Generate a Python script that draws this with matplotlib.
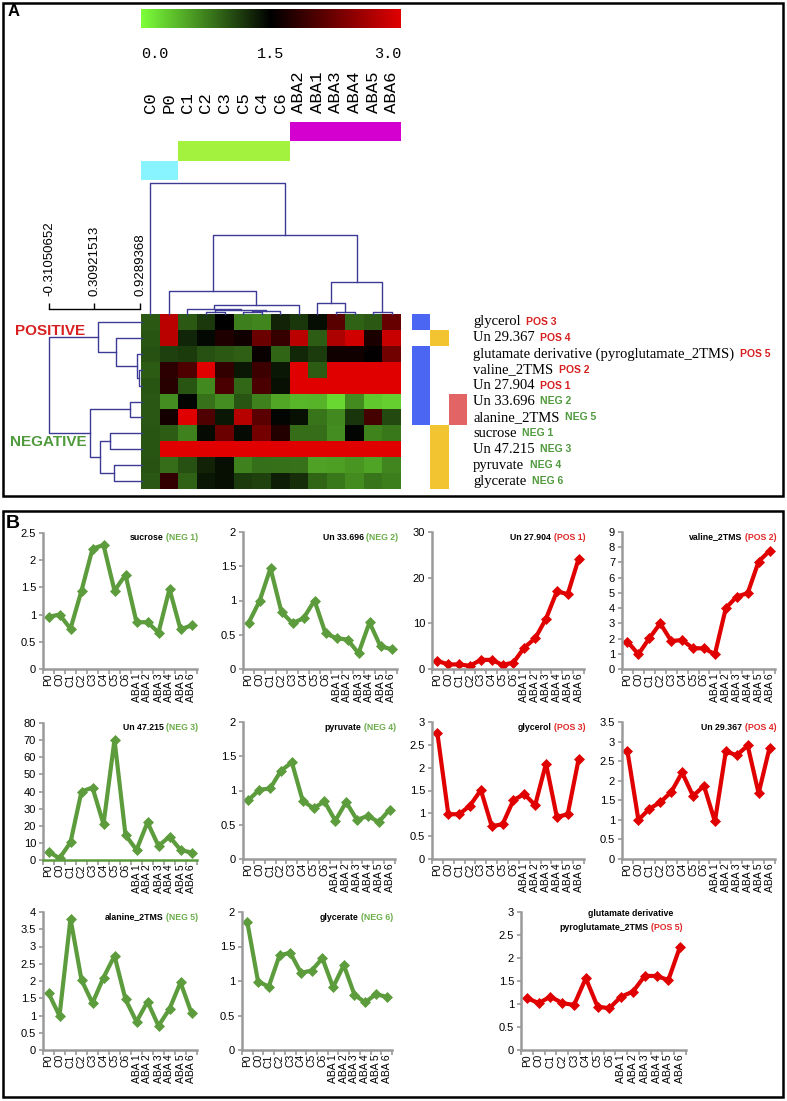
import matplotlib
matplotlib.use('Agg')
import matplotlib.pyplot as plt
import numpy as np
from matplotlib.colors import LinearSegmentedColormap
from matplotlib.patches import Rectangle
from matplotlib.ticker import FuncFormatter

W, H = 787, 1101

# ---- data ----
categories = ['P0', 'C0', 'C1', 'C2', 'C3', 'C4', 'C5', 'C6',
              'ABA 1', 'ABA 2', 'ABA 3', 'ABA 4', 'ABA 5', 'ABA 6']

sucrose = [0.96, 1.0, 0.74, 1.44, 2.21, 2.28, 1.44, 1.73, 0.86, 0.86, 0.67, 1.47, 0.73, 0.80]
un33696 = [0.67, 0.99, 1.47, 0.83, 0.67, 0.74, 1.0, 0.52, 0.45, 0.43, 0.23, 0.68, 0.33, 0.29]
un27904 = [1.76, 1.0, 1.0, 0.7, 2.0, 2.0, 0.9, 1.4, 4.7, 6.7, 11.0, 17.0, 16.4, 24.1]
valine = [1.8, 0.97, 2.02, 3.0, 1.84, 1.9, 1.36, 1.36, 0.97, 4.0, 4.76, 4.98, 7.06, 7.76]
un47215 = [4.9, 1.0, 10.3, 40.0, 42.3, 20.9, 70.2, 14.6, 5.9, 22.0, 8.2, 13.7, 5.9, 4.3]
pyruvate = [0.86, 1.01, 1.03, 1.29, 1.41, 0.85, 0.74, 0.84, 0.56, 0.83, 0.57, 0.63, 0.54, 0.72]
glycerol = [2.75, 0.98, 0.98, 1.17, 1.51, 0.72, 0.76, 1.29, 1.42, 1.18, 2.09, 0.92, 0.98, 2.18]
un29367 = [2.75, 1.0, 1.28, 1.45, 1.71, 2.21, 1.61, 1.87, 0.96, 2.75, 2.65, 2.9, 1.68, 2.84]
alanine = [1.65, 0.99, 3.81, 2.03, 1.36, 2.1, 2.73, 1.47, 0.82, 1.4, 0.7, 1.19, 1.96, 1.07]
glycerate = [1.85, 0.99, 0.92, 1.37, 1.41, 1.12, 1.15, 1.33, 0.91, 1.23, 0.80, 0.69, 0.81, 0.77]
glutamate = [1.13, 1.02, 1.16, 1.02, 0.98, 1.56, 0.94, 0.91, 1.16, 1.27, 1.61, 1.61, 1.52, 2.25]

# heatmap (panel A)
heat_cols = ['C0', 'P0', 'C1', 'C2', 'C3', 'C5', 'C4', 'C6',
             'ABA2', 'ABA1', 'ABA3', 'ABA4', 'ABA5', 'ABA6']
heat_series = [glycerol, un29367, glutamate, valine, un27904, un33696,
               alanine, sucrose, un47215, pyruvate, glycerate]
row_names = ['glycerol', 'Un 29.367', 'glutamate derivative (pyroglutamate_2TMS)',
             'valine_2TMS', 'Un 27.904', 'Un 33.696', 'alanine_2TMS', 'sucrose',
             'Un 47.215', 'pyruvate', 'glycerate']
row_tags = ['POS 3', 'POS 4', 'POS 5', 'POS 2', 'POS 1', 'NEG 2', 'NEG 5',
            'NEG 1', 'NEG 3', 'NEG 4', 'NEG 6']
col_groups = [0, 0, 1, 1, 1, 1, 1, 1, 2, 2, 2, 2, 2, 2]
# cluster side bars: rows belonging to each marker column
blue_rows = [0, 2, 3, 4, 5, 6]
yellow_rows = [1, 7, 8, 9, 10]
pink_rows = [5, 6]

# dendrograms: (left, right, height) merges, leaves in heatmap order
col_links = [(3, 4, 0.013), (5, 6, 0.013), (15, 7, 0.02), (14, 16, 0.03),
             (2, 17, 0.038), (18, 8, 0.066), (1, 19, 0.173), (10, 11, 0.013),
             (9, 21, 0.084), (12, 13, 0.013), (22, 23, 0.242), (20, 24, 0.60),
             (0, 25, 1.0)]
row_links = [(3, 4, 0.036), (2, 11, 0.054), (1, 12, 0.28), (0, 13, 0.475),
             (5, 6, 0.126), (7, 8, 0.34), (9, 10, 0.306), (16, 17, 0.45),
             (15, 18, 0.558), (14, 19, 1.0)]
scale_ticks = [-0.31050652, 0.30921513, 0.9289368]

# panel B
panel_series = [sucrose, un33696, un27904, valine, un47215, pyruvate,
                glycerol, un29367, alanine, glycerate, glutamate]
panel_names = ['sucrose', 'Un 33.696', 'Un 27.904', 'valine_2TMS', 'Un 47.215',
               'pyruvate', 'glycerol', 'Un 29.367', 'alanine_2TMS', 'glycerate',
               'pyroglutamate_2TMS']
panel_tags = ['NEG 1', 'NEG 2', 'POS 1', 'POS 2', 'NEG 3', 'NEG 4',
              'POS 3', 'POS 4', 'NEG 5', 'NEG 6', 'POS 5']
panel_ymax = [2.5, 2, 30, 9, 80, 2, 3, 3.5, 4, 2, 3]
panel_ystep = [0.5, 0.5, 10, 1, 10, 0.5, 0.5, 0.5, 0.5, 0.5, 0.5]

# ---- styling ----
GREEN = '#5c9c3c'
RED = '#e00000'
TAG_RED = '#d82020'
TAG_GREEN = '#4f9a3c'
DENDRO = '#3c3c96'
GRAY = '#9a9a9a'

fig = plt.figure(figsize=(W / 100, H / 100), dpi=100)


def box(l, t, r, b):
    return fig.add_axes([l / W, 1 - b / H, (r - l) / W, (b - t) / H])


def draw_dendro(ax, links, n, top):
    pos = {i: float(i) for i in range(n)}
    hgt = {i: 0.0 for i in range(n)}
    for k, (a, b, h) in enumerate(links):
        xs = [pos[a], pos[a], pos[b], pos[b]]
        ys = [hgt[a], h, h, hgt[b]]
        if top:
            ax.plot(xs, ys, color=DENDRO, lw=1, clip_on=False)
        else:
            ax.plot(ys, xs, color=DENDRO, lw=1, clip_on=False)
        pos[n + k] = (pos[a] + pos[b]) / 2
        hgt[n + k] = h


# ---------------- panel A ----------------
cmap = LinearSegmentedColormap.from_list('gbr', ['#7cff3a', '#000000', '#e00000'])
plain_cats = [c.replace(' ', '') for c in categories]
col_idx = [plain_cats.index(c) for c in heat_cols]
heat = np.array([[s[i] for i in col_idx] for s in heat_series])

ax_h = box(141, 314, 401, 489)
ax_h.imshow(heat, cmap=cmap, vmin=0, vmax=3, aspect='auto', interpolation='nearest')
ax_h.axis('off')

ax_t = box(141, 183, 401, 314)
draw_dendro(ax_t, col_links, len(heat_cols), True)
ax_t.set_xlim(-0.5, len(heat_cols) - 0.5)
ax_t.set_ylim(0, 1)
ax_t.axis('off')

ax_l = box(49, 314, 142, 489)
draw_dendro(ax_l, row_links, len(row_names), False)
ax_l.set_xlim(1, 0)
ax_l.set_ylim(len(row_names) - 0.5, -0.5)
ax_l.axis('off')

# colour scale
ax_c = box(141, 9, 401, 28)
ax_c.imshow(np.linspace(0, 3, 256)[None, :], cmap=cmap, vmin=0, vmax=3,
            aspect='auto', extent=[0, 3, 0, 1])
ax_c.set_yticks([])
ax_c.set_xticks([0, 1.5, 3])
ax_c.set_xticklabels(['0.0', '1.5', '3.0'], family='Liberation Mono', fontsize=11)
ax_c.tick_params(axis='x', length=0, pad=14)
labs = ax_c.get_xticklabels()
labs[0].set_ha('left')
labs[2].set_ha('right')
for s in ax_c.spines.values():
    s.set_visible(False)

# group bars + column labels
group_colors = ['#88f4ff', '#a2f23e', '#d400d0']
group_level = [2, 1, 0]
ax_g = box(141, 122, 401, 180)
for i, g in enumerate(col_groups):
    ax_g.bar(i, 1, bottom=group_level[g], width=1, color=group_colors[g], lw=0)
ax_g.set_xlim(-0.5, len(heat_cols) - 0.5)
ax_g.set_ylim(3, 0)
ax_g.xaxis.tick_top()
ax_g.set_xticks(range(len(heat_cols)))
ax_g.set_xticklabels(heat_cols, rotation=90, family='Liberation Mono', fontsize=12.5)
ax_g.tick_params(axis='x', length=0, pad=6.5)
ax_g.set_yticks([])
for s in ax_g.spines.values():
    s.set_visible(False)

# side cluster bars + row labels
ax_a = box(412, 314, 467, 489)
for col, (rows, c) in enumerate([(blue_rows, '#4a66f2'), (yellow_rows, '#f2c431'),
                                 (pink_rows, '#e36464')]):
    for r in rows:
        ax_a.barh(r, 1, left=col, height=1, color=c, lw=0)
ax_a.set_xlim(0, 3)
ax_a.set_ylim(len(row_names) - 0.5, -0.5)
ax_a.axis('off')
for r, (name, tag) in enumerate(zip(row_names, row_tags)):
    t = ax_a.text(3.33, r, name, va='center', ha='left',
                  family='Liberation Serif', fontsize=10.5, clip_on=False)
    ax_a.annotate(tag, xy=(1, 0.5), xycoords=t, xytext=(4, 0),
                  textcoords='offset points', va='center', ha='left',
                  color=TAG_RED if tag.startswith('POS') else TAG_GREEN,
                  family='Liberation Sans', weight='bold', fontsize=7.5)

# distance scale bar
ax_s = box(49, 309, 140, 320)
ax_s.patch.set_visible(False)
ax_s.set_xlim(scale_ticks[0], scale_ticks[-1])
ax_s.xaxis.tick_top()
ax_s.set_xticks(scale_ticks)
ax_s.set_xticklabels(['%s' % v for v in scale_ticks], rotation=90,
                     family='Liberation Sans', fontsize=9.5)
ax_s.tick_params(axis='x', direction='out', length=4.5, width=1, pad=5)
ax_s.set_yticks([])
for k, s in ax_s.spines.items():
    s.set_visible(k == 'top')
ax_s.spines['top'].set_linewidth(1)

fig.text(15 / W, 1 - 331 / H, 'POSITIVE', color=TAG_RED, weight='bold',
         fontsize=11, va='center', ha='left', family='Liberation Sans')
fig.text(10 / W, 1 - 442 / H, 'NEGATIVE', color=TAG_GREEN, weight='bold',
         fontsize=11, va='center', ha='left', family='Liberation Sans')

# ---------------- panel B ----------------
panel_boxes = [(43, 533, 197, 669), (243, 532, 397, 669), (432, 532, 584, 669),
               (622, 532, 775, 669), (43, 723, 197, 860), (243, 722, 395, 859),
               (432, 722, 584, 859), (622, 722, 775, 859), (43, 912, 197, 1050),
               (242, 912, 392, 1050), (521, 912, 686, 1050)]
x = np.arange(len(categories))
for k in range(len(panel_series)):
    l, t, r, b = panel_boxes[k]
    ax = box(l, t, r, b)
    tag = panel_tags[k]
    neg = tag.startswith('NEG')
    col = GREEN if neg else RED
    ax.plot(x, panel_series[k], color=col, lw=3, marker='D', ms=5.5, mec=col, mew=0.5)
    ax.set_xlim(-0.5, len(categories) - 0.5)
    ymax, step = panel_ymax[k], panel_ystep[k]
    ax.set_ylim(0, ymax)
    ax.set_yticks(np.arange(0, ymax + step / 2, step))
    ax.yaxis.set_major_formatter(FuncFormatter(lambda v, p: '%g' % v))
    ax.set_xticks(x)
    ax.set_xticklabels(categories, rotation=90, family='Liberation Sans', fontsize=7.5)
    ax.set_xticks(np.arange(-0.5, len(categories), 1), minor=True)
    ax.tick_params(axis='x', which='major', length=0, pad=3)
    ax.tick_params(axis='x', which='minor', length=3.5, width=1.2, color=GRAY)
    ax.tick_params(axis='y', length=3, width=1.2, color=GRAY, pad=2, labelsize=8)
    for lab in ax.get_yticklabels():
        lab.set_family('Liberation Sans')
    ax.spines['top'].set_visible(False)
    ax.spines['right'].set_visible(False)
    for side in ('left', 'bottom'):
        ax.spines[side].set_color(GRAY)
        ax.spines[side].set_linewidth(1.8)
    if panel_names[k] == 'Un 47.215':
        ax.spines['bottom'].set_color(GREEN)
    tcol = '#6aad4a' if neg else '#e02828'
    h = b - t
    if k == 10:
        ax.text(0.665, 1 - 1 / h, 'glutamate derivative', transform=ax.transAxes,
                ha='center', va='center', fontsize=6.3, weight='bold',
                family='Liberation Sans')
        ty, tx = 1 - 16 / h, 0.98
    else:
        ty, tx = 1 - 5 / h, 1.01
    tg = ax.text(tx, ty, '(' + tag + ')', transform=ax.transAxes, ha='right',
                 va='center', color=tcol, fontsize=6.3, weight='bold',
                 family='Liberation Sans')
    ax.annotate(panel_names[k], xy=(0, 0.5), xycoords=tg, xytext=(-2, 0),
                textcoords='offset points', ha='right', va='center', fontsize=6.3,
                weight='bold', family='Liberation Sans')

# panel frames and letters
fig.add_artist(Rectangle((3 / W, 1 - 496 / H), 780 / W, 493 / H,
                         transform=fig.transFigure, fill=False, lw=1.8, ec='black'))
fig.add_artist(Rectangle((3 / W, 1 - 1097 / H), 780 / W, 586 / H,
                         transform=fig.transFigure, fill=False, lw=1.8, ec='black'))
fig.text(8 / W, 1 - 11 / H, 'A', weight='bold', fontsize=12, va='center',
         family='Liberation Sans')
fig.text(6 / W, 1 - 524 / H, 'B', weight='bold', fontsize=14, va='center',
         family='Liberation Sans')

fig.savefig('out.png', dpi=100)
